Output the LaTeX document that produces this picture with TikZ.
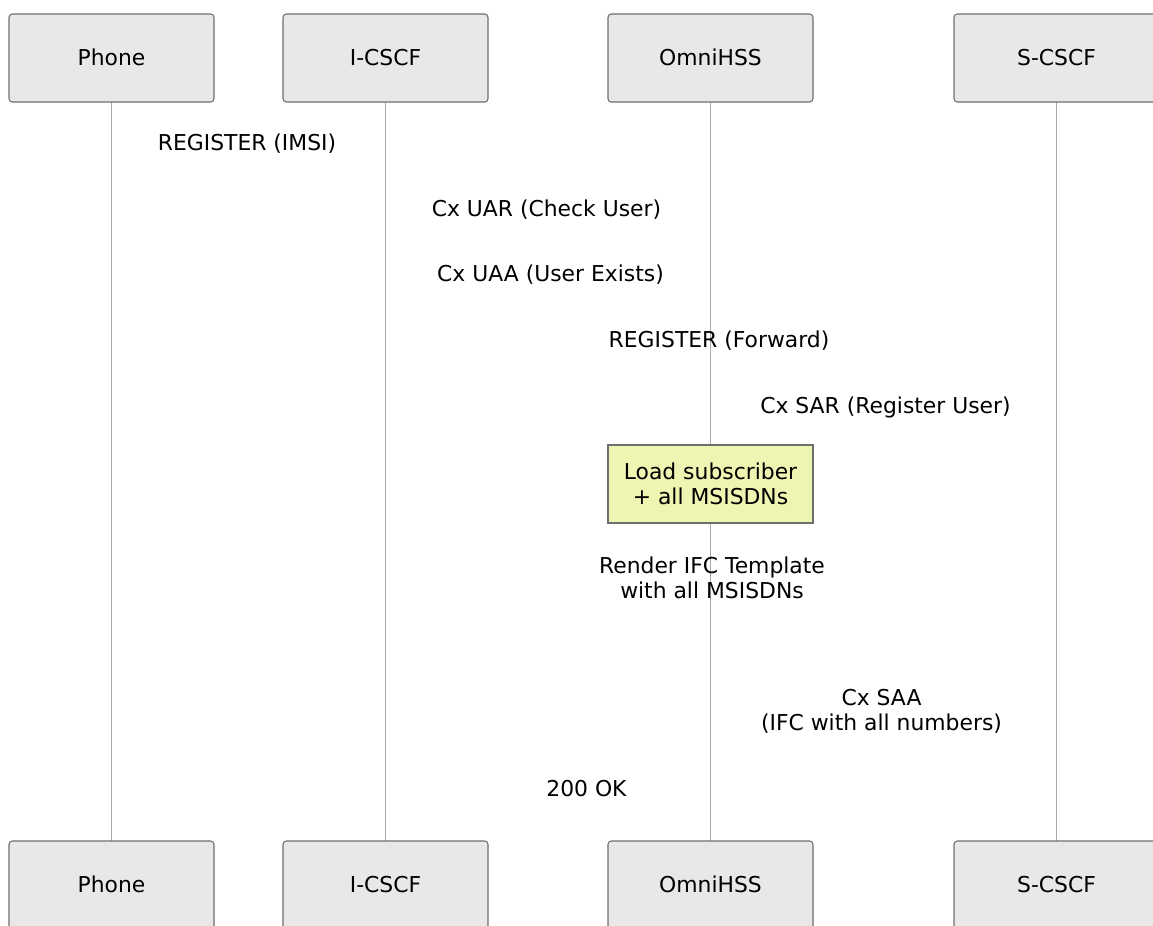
\documentclass[tikz,border=0pt]{standalone}
\usepackage{fontspec}
\setmainfont{DejaVu Sans}
\definecolor{actfill}{HTML}{E8E8E8}
\definecolor{actdraw}{HTML}{6E6E6E}
\definecolor{notefill}{HTML}{EEF4B1}
\definecolor{lifeline}{HTML}{AAAAAA}
\begin{document}
\begin{tikzpicture}[x=0.75pt,y=-0.75pt,
  font=\fontsize{16.4}{18.75}\selectfont,
  actor/.style={draw=actdraw,fill=actfill,rounded corners=2.5pt,line width=0.8pt,
    minimum width=153.75pt,minimum height=66pt,inner sep=0pt,
    text height=12pt,text depth=1.5pt},
  notebox/.style={draw=actdraw,fill=notefill,line width=0.8pt,
    minimum width=153.75pt,minimum height=58.5pt,inner sep=0pt,align=center},
  msg/.style={inner sep=0pt,align=center},
  life/.style={draw=lifeline,line width=1pt}]
\useasboundingbox (0,0) rectangle (1153,925);
\clip (0,0) rectangle (1153,925);
% lifelines
\coordinate (p1) at (111.5,102);
\coordinate (p2) at (111.5,841);
\coordinate (i1) at (385.5,102);
\coordinate (i2) at (385.5,841);
\coordinate (o1) at (710.5,102);
\coordinate (o2) at (710.5,841);
\coordinate (s1) at (1056.5,102);
\coordinate (s2) at (1056.5,841);
\draw[life] (p1) -- (p2);
\draw[life] (i1) -- (i2);
\draw[life] (o1) -- (o2);
\draw[life] (s1) -- (s2);
% actors top
\node[actor] (phoneT) at (111.5,58) {Phone};
\node[actor] (icscfT) at (385.5,58) {I-CSCF};
\node[actor] (hssT) at (710.5,58) {OmniHSS};
\node[actor] (scscfT) at (1056.5,58) {S-CSCF};
% actors bottom
\node[actor] (phoneB) at (111.5,885) {Phone};
\node[actor] (icscfB) at (385.5,885) {I-CSCF};
\node[actor] (hssB) at (710.5,885) {OmniHSS};
\node[actor] (scscfB) at (1056.5,885) {S-CSCF};
% messages
\node[msg] (m1) at (247,144) {REGISTER (IMSI)};
\node[msg] (m2) at (546.5,210) {Cx UAR (Check User)};
\node[msg] (m3) at (550.5,275) {Cx UAA (User Exists)};
\node[msg] (m4) at (719,341) {REGISTER (Forward)};
\node[msg] (m5) at (885.5,407) {Cx SAR (Register User)};
\node[notebox] (note) at (710.5,484) {Load subscriber\\+ all MSISDNs};
\node[msg] (m6) at (712,578) {Render IFC Template\\with all MSISDNs};
\node[msg] (m7) at (881.5,711) {Cx SAA\\(IFC with all numbers)};
\node[msg] (m8) at (586.5,789) {200 OK};
\end{tikzpicture}
\end{document}
